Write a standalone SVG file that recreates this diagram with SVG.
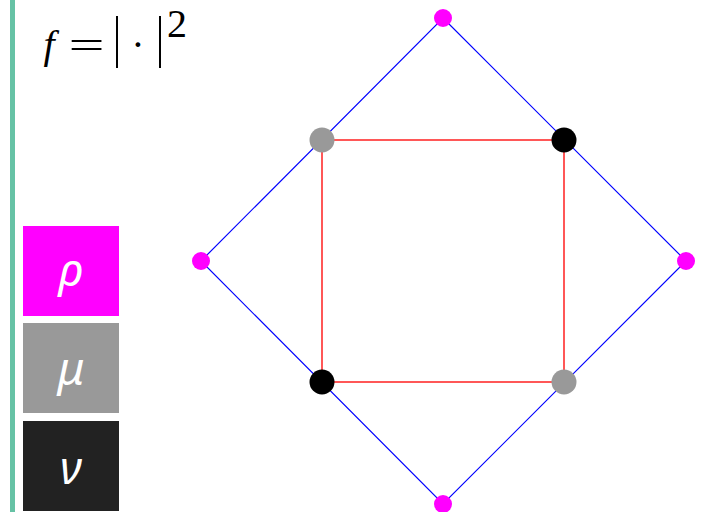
<svg xmlns="http://www.w3.org/2000/svg" width="704" height="512" viewBox="0 0 704 512">
<style>
.blue{stroke:#0000ff;stroke-width:1.2;fill:none}
.red{stroke:#ff2020;stroke-width:1.5;fill:none}
.mag{fill:#ff00ff}
.gray{fill:#999999}
.blk{fill:#000000}
.leg{font-family:"Noto Sans","DejaVu Sans",sans-serif;font-style:italic;font-size:46px;fill:#ffffff;text-anchor:middle}
.math{font-family:"Liberation Serif","DejaVu Serif",serif;font-size:40px;fill:#000;text-anchor:middle}
</style>
<rect width="704" height="512" fill="#ffffff"/>
<rect x="10" y="0" width="5" height="512" fill="#66c2a5"/>
<g id="formula">
<text class="math" x="49" y="58" font-size="48" font-style="italic">f</text>
<text class="math" transform="translate(86.5,59) scale(1.6,1)" x="0" y="0">=</text>
<text class="math" transform="translate(117,56.4) scale(1,1.45)" x="0" y="0" font-size="46">|</text>
<text class="math" x="138" y="58">·</text>
<text class="math" transform="translate(160,56.4) scale(1,1.45)" x="0" y="0" font-size="46">|</text>
<text class="math" x="177" y="37" font-size="28">2</text>
</g>
<g id="legend-rho"><rect x="23" y="226" width="96" height="90" fill="#ff00ff"/><text class="leg" x="71" y="286">ρ</text></g>
<g id="legend-mu"><rect x="23" y="323" width="96" height="90" fill="#999999"/><text class="leg" x="71" y="385">μ</text></g>
<g id="legend-nu"><rect x="23" y="421" width="96" height="90" fill="#222222"/><text class="leg" x="71" y="484">ν</text></g>
<g id="connectors">
<path class="blue" d="M443,18 L686,261 L443,504 L201,261 Z"/>
<path class="red" d="M322,140 L564,140 L564,382 L322,382 Z"/>
</g>
<g id="n-top"><circle class="mag" cx="443" cy="18" r="9"/></g>
<g id="n-left"><circle class="mag" cx="201" cy="261" r="9"/></g>
<g id="n-right"><circle class="mag" cx="686" cy="261" r="9"/></g>
<g id="n-bottom"><circle class="mag" cx="443" cy="504" r="9"/></g>
<g id="n-tl"><circle class="gray" cx="322" cy="140" r="12.5"/></g>
<g id="n-tr"><circle class="blk" cx="564" cy="140" r="12.5"/></g>
<g id="n-bl"><circle class="blk" cx="322" cy="382" r="12.5"/></g>
<g id="n-br"><circle class="gray" cx="564" cy="382" r="12.5"/></g>
</svg>
